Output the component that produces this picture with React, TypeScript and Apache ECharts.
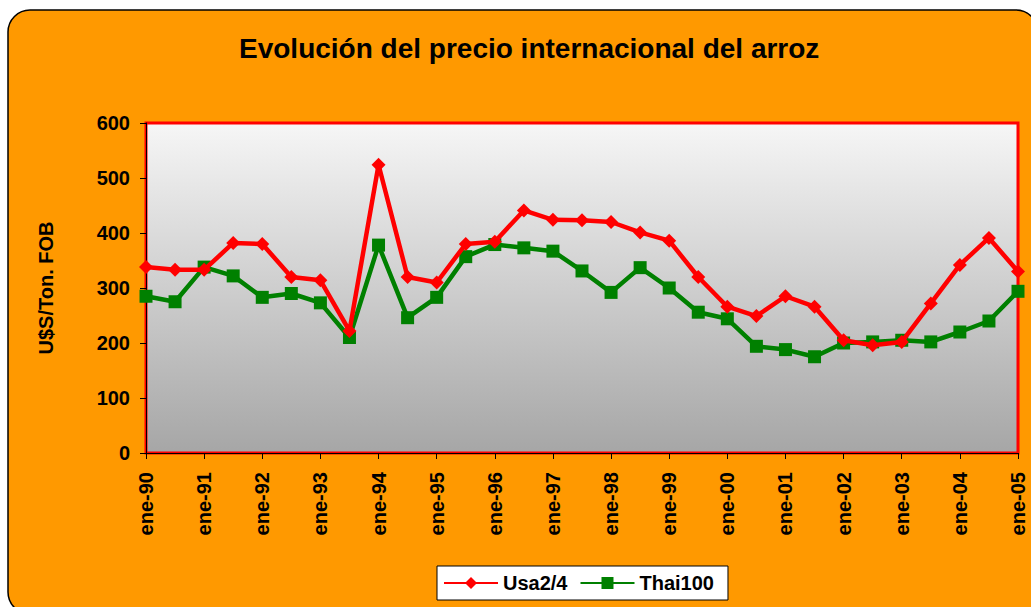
import React, { useEffect, useRef } from "react";
import * as echarts from "echarts";

const yearLabels = ["90","91","92","93","94","95","96","97","98","99","00","01","02","03","04","05"];
const categories: string[] = [];
yearLabels.forEach((y, i) => {
  categories.push("ene-" + y);
  if (i < yearLabels.length - 1) categories.push("jul-" + y);
});

const usaValues = [338, 333, 333, 382, 380, 320, 314, 222, 524, 320, 310, 380, 384, 441, 424, 423, 420, 401, 386, 320, 266, 249, 285, 266, 205, 196, 202, 272, 342, 391, 330];
const thaiValues = [285, 275, 338, 322, 283, 290, 273, 210, 378, 246, 283, 357, 379, 373, 367, 331, 292, 337, 300, 256, 244, 194, 188, 175, 200, 202, 205, 202, 220, 240, 294];
const yTicks = [0, 100, 200, 300, 400, 500, 600];

export default function App() {
  const ref = useRef<HTMLDivElement>(null);
  useEffect(() => {
    if (!ref.current) return;
    const chart = echarts.init(ref.current, undefined, { renderer: "svg" });
    const font = "Arial, 'Liberation Sans', sans-serif";
    chart.setOption({
      animation: false,
      backgroundColor: "#ffffff",
      graphic: [
        {
          type: "rect",
          z: -10,
          silent: true,
          shape: { x: 8, y: 10, width: 1030, height: 604, r: 22 },
          style: { fill: "#ff9900", stroke: "#000000", lineWidth: 1.5 },
        },
      ],
      title: {
        text: "Evolución del precio internacional del arroz",
        left: 234,
        top: 29,
        textStyle: { fontFamily: font, fontWeight: "bold", fontSize: 28, color: "#000" },
      },
      legend: {
        left: 437,
        top: 566,
        backgroundColor: "#ffffff",
        borderColor: "#000000",
        borderWidth: 1,
        padding: [7, 14, 7, 6],
        itemWidth: 54,
        itemHeight: 15,
        itemGap: 12,
        textStyle: { fontFamily: font, fontWeight: "bold", fontSize: 20, color: "#000" },
        data: ["Usa2/4", "Thai100"],
      },
      grid: {
        left: 146,
        right: 13,
        top: 123,
        bottom: 154,
        show: true,
        borderColor: "#ff0000",
        borderWidth: 3,
        backgroundColor: new echarts.graphic.LinearGradient(0, 0, 0, 1, [
          { offset: 0, color: "#f6f6f6" },
          { offset: 1, color: "#a6a6a6" },
        ]),
      },
      xAxis: {
        type: "category",
        data: categories,
        boundaryGap: false,
        axisLine: { show: true, lineStyle: { color: "#000", width: 1 } },
        axisTick: { show: true, interval: 1, length: 6, lineStyle: { color: "#000" } },
        axisLabel: {
          interval: 1,
          rotate: 90,
          margin: 19,
          fontFamily: font,
          fontWeight: "bold",
          fontSize: 20,
          color: "#000",
        },
        splitLine: { show: false },
      },
      yAxis: {
        type: "value",
        min: 0,
        max: 600,
        interval: 100,
        name: "U$S/Ton. FOB",
        nameLocation: "middle",
        nameGap: 90,
        nameTextStyle: { fontFamily: font, fontWeight: "bold", fontSize: 20, color: "#000" },
        axisLine: { show: true, lineStyle: { color: "#000", width: 1 } },
        axisTick: { show: true, length: 6, lineStyle: { color: "#000" } },
        axisLabel: {
          margin: 16,
          fontFamily: font,
          fontWeight: "bold",
          fontSize: 20,
          color: "#000",
          formatter: (v: number) => (yTicks.includes(v) ? String(v) : ""),
        },
        splitLine: { show: false },
      },
      series: [
        {
          name: "Usa2/4",
          type: "line",
          data: usaValues,
          color: "#ff0000",
          symbol: "diamond",
          symbolSize: 14,
          lineStyle: { width: 4.5, color: "#ff0000" },
          itemStyle: { color: "#ff0000" },
          z: 3,
        },
        {
          name: "Thai100",
          type: "line",
          data: thaiValues,
          color: "#008000",
          symbol: "rect",
          symbolSize: 13,
          lineStyle: { width: 4.5, color: "#008000" },
          itemStyle: { color: "#008000" },
          z: 2,
        },
      ],
    });
    return () => chart.dispose();
  }, []);
  return (
    <div
      ref={ref}
      style={{ position: "fixed", left: 0, top: 0, width: 1031, height: 607 }}
    />
  );
}
